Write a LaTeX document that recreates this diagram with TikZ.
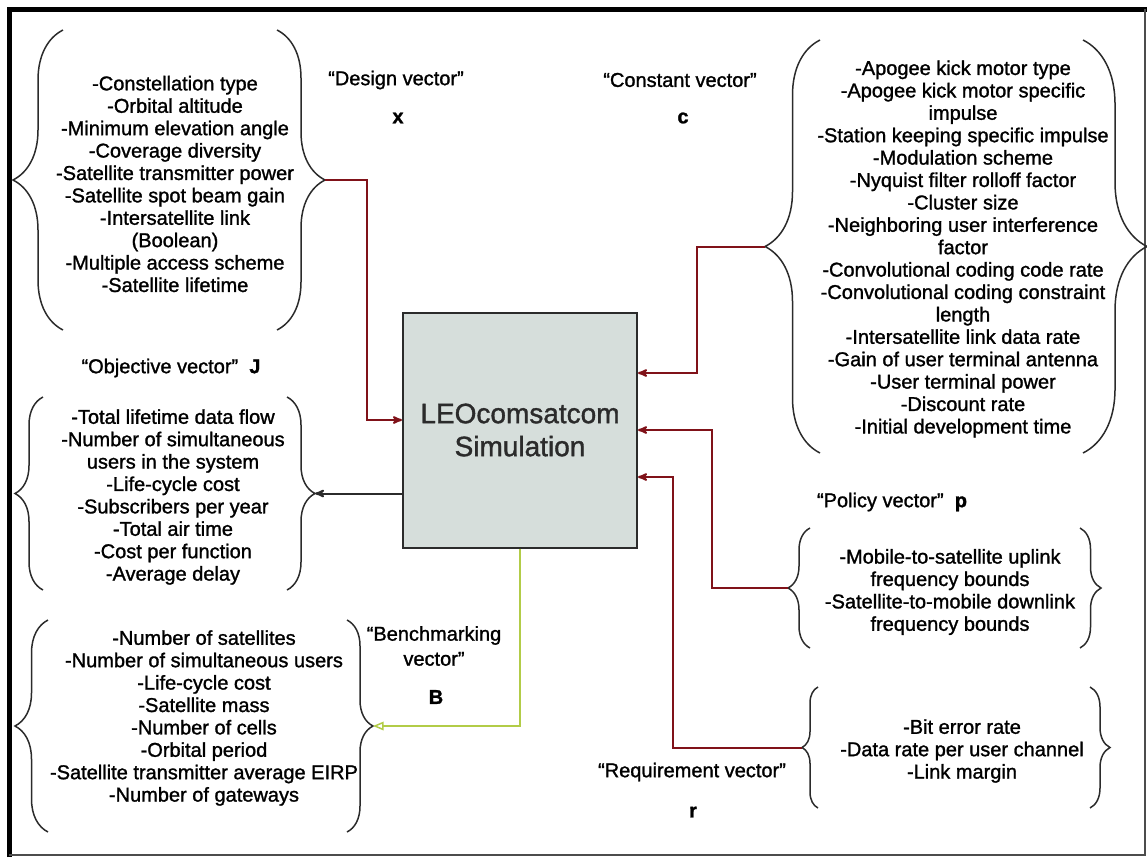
\documentclass[tikz,border=0pt]{standalone}
\usepackage{fontspec}
\setmainfont{Liberation Sans}[FakeBold=1.3]
\usetikzlibrary{arrows,decorations.pathreplacing}
\definecolor{wire}{rgb}{0.5,0.07,0.1}
\definecolor{limewire}{rgb}{0.70,0.80,0.28}
\definecolor{simfill}{rgb}{0.84,0.87,0.86}
\definecolor{inkgray}{rgb}{0.17,0.17,0.17}
\tikzset{
>=stealth',
  itemlist/.style={
    align=center,
    inner sep=0pt,
    font=\fontsize{20}{22.4}\selectfont},
  vlabel/.style={
    align=center,
    inner sep=0pt,
    font=\fontsize{20}{25}\selectfont},
  vsym/.style={inner sep=0pt, font=\fontsize{20}{24}\selectfont\bfseries},
  simbox/.style={
    rectangle,
    fill=simfill,
    draw=inkgray, line width=2pt,
    minimum width=234pt,
    minimum height=235pt,
    text=inkgray,
    align=center,
    font=\fontsize{28}{33}\selectfont},
  clamp/.style={decorate, decoration={brace, amplitude=#1},
    draw=inkgray, line width=1.5pt},
  sigline/.style={draw=wire, line width=2pt, ->},
  outline/.style={draw=inkgray, line width=2pt, ->},
  benchline/.style={draw=limewire, line width=1.5pt, -open triangle 45},
}

\begin{document}
\begin{tikzpicture}[x=1pt,y=-1pt]
  \useasboundingbox (0,0) rectangle (1147,857);
  % outer frame
  \draw[line width=5pt] (9,857) -- (9,9) -- (1147,9);
  \draw[line width=2pt, black!70] (9,855) -- (1145,855) -- (1145,9);

  % the simulation block
  \node[simbox] (sim) at (520,430) {LEOcomsatcom\\Simulation};

  % design vector
  \node[vlabel] (xname) at (396,80) {“Design vector”};
  \node[vsym] (xsym) at (398,118) {x};
  \node[itemlist] (xlist) at (175,184) {-Constellation type\\-Orbital altitude\\
    -Minimum elevation angle\\-Coverage diversity\\-Satellite transmitter power\\
    -Satellite spot beam gain\\-Intersatellite link\\(Boolean)\\
    -Multiple access scheme\\-Satellite lifetime};
  \draw[clamp=50pt] (63,330) -- (63,30);
  \draw[clamp=48pt] (277,30) -- (277,330);
  \coordinate (xtip) at (325,180);

  % constant vector
  \node[vlabel] (cname) at (680,80) {“Constant vector”};
  \node[vsym] (csym) at (683,118) {c};
  \node[itemlist] (clist) at (963,249) {-Apogee kick motor type\\
    -Apogee kick motor specific\\impulse\\-Station keeping specific impulse\\
    -Modulation scheme\\-Nyquist filter rolloff factor\\-Cluster size\\
    -Neighboring user interference\\factor\\-Convolutional coding code rate\\
    -Convolutional coding constraint\\length\\-Intersatellite link data rate\\
    -Gain of user terminal antenna\\-User terminal power\\-Discount rate\\
    -Initial development time};
  \draw[clamp=55pt] (820,453) -- (820,40);
  \draw[clamp=64pt] (1083,40) -- (1083,453);
  \coordinate (ctip) at (765,246.5);

  % objective vector
  \node[vlabel] (jname) at (171,368) {“Objective vector”\ \ \textbf{J}};
  \node[itemlist] (jlist) at (173,497) {-Total lifetime data flow\\
    -Number of simultaneous\\users in the system\\-Life-cycle cost\\
    -Subscribers per year\\-Total air time\\-Cost per function\\-Average delay};
  \draw[clamp=28pt] (43,590) -- (43,397);
  \draw[clamp=28pt] (287,397) -- (287,590);
  \coordinate (jtip) at (315,493.5);

  % benchmarking vector
  \node[vlabel] (bname) at (434,646) {“Benchmarking\\vector”};
  \node[vsym] (bsym) at (436,697) {B};
  \node[itemlist] (blist) at (204,718) {-Number of satellites\\
    -Number of simultaneous users\\-Life-cycle cost\\-Satellite mass\\
    -Number of cells\\-Orbital period\\-Satellite transmitter average EIRP\\
    -Number of gateways};
  \draw[clamp=33pt] (48,832) -- (48,620);
  \draw[clamp=26pt] (347,620) -- (347,832);
  \coordinate (btip) at (373,726);

  % policy vector
  \node[vlabel] (pname) at (892,502) {“Policy vector”\ \ \textbf{p}};
  \node[itemlist] (plist) at (950,592) {-Mobile-to-satellite uplink\\
    frequency bounds\\-Satellite-to-mobile downlink\\frequency bounds};
  \draw[clamp=22pt] (810,648) -- (810,528);
  \draw[clamp=21pt] (1080,528) -- (1080,648);
  \coordinate (ptip) at (788,588);

  % requirement vector
  \node[vlabel] (rname) at (692,772) {“Requirement vector”};
  \node[vsym] (rsym) at (693,812) {r};
  \node[itemlist] (rlist) at (962,751) {-Bit error rate\\
    -Data rate per user channel\\-Link margin};
  \draw[clamp=16pt] (818,808) -- (818,687);
  \draw[clamp=20pt] (1090,687) -- (1090,808);
  \coordinate (rtip) at (802,747.5);

  % connectors
  \coordinate (xbend) at (367,420);
  \coordinate (cbend) at (697,373);
  \coordinate (pbend) at (712,430);
  \coordinate (rbend) at (673,477);
  \coordinate (bbend) at (520,726);
  \draw[sigline] (xtip) -| (xbend) -- (xbend -| sim.west);
  \draw[sigline] (ctip) -| (cbend) -- (cbend -| sim.east);
  \draw[sigline] (ptip) -| (pbend) -- (pbend -| sim.east);
  \draw[sigline] (rtip) -| (rbend) -- (rbend -| sim.east);
  \draw[outline] (sim.west |- jtip) -- (jtip);
  \draw[benchline] (sim.south) -- (bbend) -- (btip);
\end{tikzpicture}
\end{document}
